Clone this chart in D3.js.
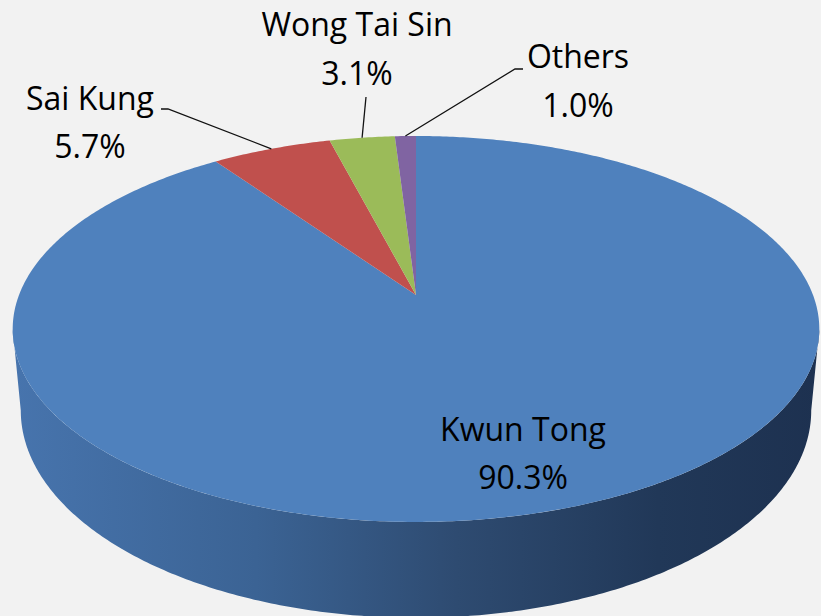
<!DOCTYPE html>
<html><head><meta charset="utf-8">
<script src="https://cdn.jsdelivr.net/npm/d3@7"></script>
<style>
html,body{margin:0;padding:0;background:#f2f2f2;}
svg{display:block;}
</style></head>
<body>
<svg id="chart" width="821" height="616"></svg>
<script>
// ---- data ----
const categories = ["Kwun Tong", "Sai Kung", "Wong Tai Sin", "Others"];
const values = [90.3, 5.7, 3.1, 1.0];
const valueLabels = ["90.3%", "5.7%", "3.1%", "1.0%"];
const colors = ["#4f81bd", "#c0504d", "#9bbb59", "#8064a2"];

// ---- layout (label placement) ----
const labelLayout = [
  {x: 523, y1: 441, y2: 489, leader: null},
  {x: 90,  y1: 110, y2: 158, leader: [[168, 109], [161, 109]]},
  {x: 357, y1: 36,  y2: 85,  leader: [[366, 97]]},
  {x: 578, y1: 68,  y2: 117, leader: [[515, 69], [523, 69]]}
];

const svg = d3.select("#chart");
svg.append("rect").attr("width", 821).attr("height", 616).attr("fill", "#f2f2f2");

// perspective projection of the disc
const cx = 416, cy = 295, A = 397, B = 187, k = 0.176, H = 79, bottomScale = 0.98;
function proj(theta, drop) {
  const X = Math.sin(theta), Z = -Math.cos(theta);
  const w = 1 - k * Z;
  const sx = drop ? bottomScale : 1;
  return [cx + A * sx * X / w, cy + (B * Z + H * (drop ? 1 : 0)) / w];
}

const pie = d3.pie().sort(null).value(d => d).startAngle(0).endAngle(2 * Math.PI);
const arcs = pie(values);

function arcPoints(a0, a1, drop) {
  const n = Math.max(2, Math.ceil(Math.abs(a1 - a0) / 0.01));
  return d3.range(n + 1).map(i => proj(a0 + (a1 - a0) * i / n, drop));
}
const line = d3.line();

// side gradient
const defs = svg.append("defs");
const grad = defs.append("linearGradient").attr("id", "sideGrad")
  .attr("gradientUnits", "userSpaceOnUse").attr("x1", 15).attr("x2", 819).attr("y1", 0).attr("y2", 0);
[[0, "#4774ad"], [0.3, "#3b6394"], [0.55, "#2e4b71"], [0.8, "#213858"], [1, "#1d3150"]]
  .forEach(([o, c]) => grad.append("stop").attr("offset", o).attr("stop-color", c));

// visible side range
const t1 = Math.acos(-k), t2 = 2 * Math.PI - t1;
arcs.forEach((a, i) => {
  const s = Math.max(a.startAngle, t1), e = Math.min(a.endAngle, t2);
  if (e <= s) return;
  const top = arcPoints(s, e, false), bot = arcPoints(e, s, true);
  svg.append("path").attr("d", line(top.concat(bot)) + "Z")
    .attr("fill", i === 0 ? "url(#sideGrad)" : d3.color(colors[i]).darker(1));
});

// top faces
arcs.forEach((a, i) => {
  const pts = [[cx, cy]].concat(arcPoints(a.startAngle, a.endAngle, false));
  svg.append("path").attr("d", line(pts) + "Z").attr("fill", colors[i]);
});

// labels
const font = "'Open Sans', 'Noto Sans', sans-serif";
arcs.forEach((a, i) => {
  const L = labelLayout[i];
  if (L.leader) {
    const mid = (a.startAngle + a.endAngle) / 2;
    const pts = [proj(mid, false)].concat(L.leader);
    svg.append("path").attr("d", line(pts)).attr("fill", "none")
      .attr("stroke", "#111").attr("stroke-width", 1.3);
  }
  const g = svg.append("g").attr("font-family", font).attr("font-size", 32)
    .attr("fill", "#000").attr("text-anchor", "middle");
  g.append("text").attr("x", L.x).attr("y", L.y1).text(categories[i]);
  g.append("text").attr("x", L.x).attr("y", L.y2).text(valueLabels[i]);
});
</script>
</body></html>
